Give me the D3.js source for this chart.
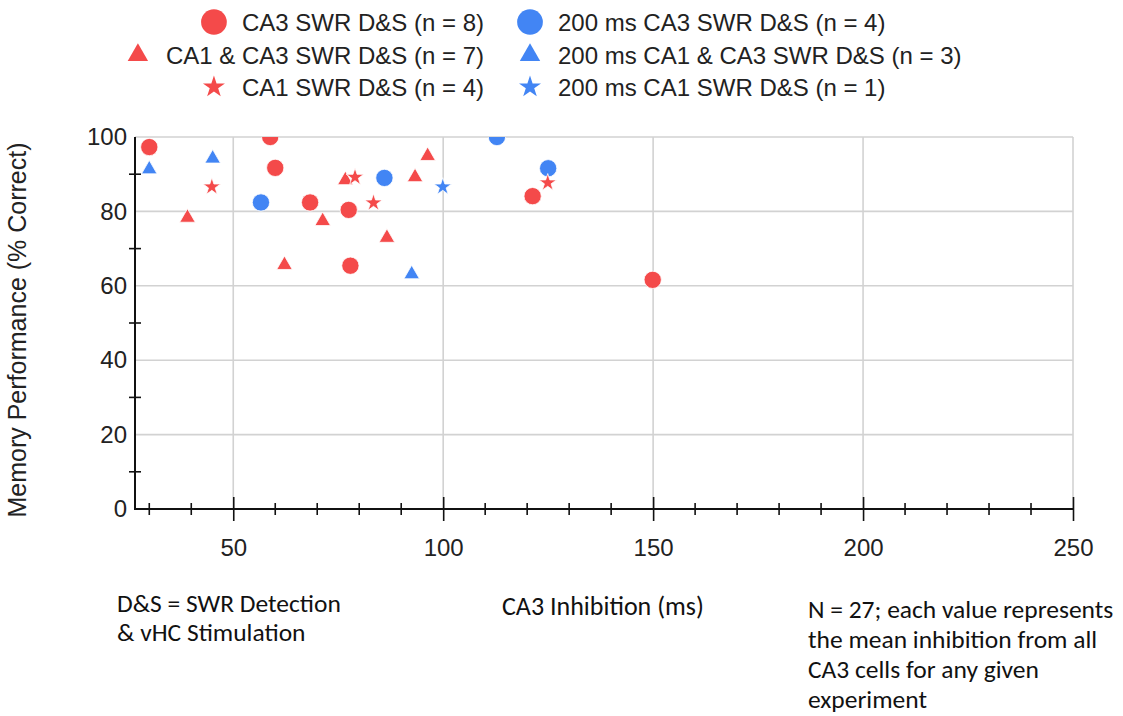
<html>
<head>
<script src="https://d3js.org/d3.v7.min.js"></script>
<style>
  body { margin: 0; background: #fff; }
  text { font-family: "Liberation Sans", Arial, sans-serif; fill: #222; }
  .note { font-family: Carlito, Calibri, Lato, "Open Sans", sans-serif; fill: #111; }
</style>
</head>
<body>
<svg width="1123" height="716"></svg>
<script>
// series, in the order the chart draws them
const seriesNames = [
  'CA3 SWR D&S (n = 8)', '200 ms CA3 SWR D&S (n = 4)',
  'CA1 & CA3 SWR D&S (n = 7)', '200 ms CA1 & CA3 SWR D&S (n = 3)',
  'CA1 SWR D&S (n = 4)', '200 ms CA1 SWR D&S (n = 1)'
];
const seriesShapes = ['circle', 'circle', 'triangle', 'triangle', 'star', 'star'];
const seriesColors = ['#f44a4a', '#4285f4', '#f44a4a', '#4285f4', '#f44a4a', '#4285f4'];

// CA3 inhibition (ms) / memory performance (% correct)
const ca3X = [30, 58.8, 60, 68.3, 77.5, 77.9, 121.3, 149.9];
const ca3Y = [97.3, 100, 91.7, 82.4, 80.4, 65.4, 84.1, 61.6];
const ca3ShortX = [56.6, 86, 112.8, 125];
const ca3ShortY = [82.4, 89, 100, 91.6];
const bothX = [39.1, 62.2, 71.3, 76.7, 86.6, 93.3, 96.3];
const bothY = [78.3, 65.6, 77.4, 88.4, 72.9, 89.2, 94.9];
const bothShortX = [30, 45.1, 92.5];
const bothShortY = [91.3, 94.2, 63.1];
const ca1X = [44.9, 79, 83.4, 124.9];
const ca1Y = [86.6, 89.2, 82.3, 87.7];
const ca1ShortX = [99.9];
const ca1ShortY = [86.6];

const xs = [ca3X, ca3ShortX, bothX, bothShortX, ca1X, ca1ShortX];
const ys = [ca3Y, ca3ShortY, bothY, bothShortY, ca1Y, ca1ShortY];

const xTicks = [50, 100, 150, 200, 250];
const xMinor = [30, 40, 60, 70, 80, 90, 110, 120, 130, 140, 160, 170, 180, 190, 210, 220, 230, 240];
const yTicks = [0, 20, 40, 60, 80, 100];
const yMinor = [10, 30, 50, 70, 90];

const svg = d3.select('svg');
const pLeft = 135, pRight = 1073, pTop = 137, pBottom = 509;

const x = d3.scaleLinear().domain([26.6, 250]).range([pLeft, pRight]);
const y = d3.scaleLinear().domain([0, 100]).range([pBottom, pTop]);

const symbolOf = { circle: d3.symbolCircle, triangle: d3.symbolTriangle, star: d3.symbolStar };
const plotSize = { circle: 235, triangle: 105, star: 95 };
const legendSize = { circle: 520, triangle: 180, star: 150 };

svg.append('defs').append('clipPath').attr('id', 'plot')
  .append('rect').attr('x', pLeft).attr('y', pTop)
  .attr('width', pRight - pLeft).attr('height', pBottom - pTop);

// gridlines
const grid = svg.append('g').attr('stroke', '#d2d2d2').attr('stroke-width', 1.6);
grid.append('g').selectAll('line').data(yTicks.filter(d => d > 0)).join('line')
  .attr('x1', pLeft).attr('x2', pRight).attr('y1', d => y(d)).attr('y2', d => y(d));
grid.append('g').selectAll('line').data(xTicks).join('line')
  .attr('y1', pTop).attr('y2', pBottom).attr('x1', d => x(d)).attr('x2', d => x(d));

// x axis
const xAxis = svg.append('g').attr('transform', `translate(0,${pBottom})`)
  .call(d3.axisBottom(x).tickValues(xTicks).tickSize(12).tickPadding(18))
  .call(g => g.select('.domain').remove());
xAxis.selectAll('.tick line').attr('y1', -12).attr('stroke', '#111').attr('stroke-width', 1.6);
xAxis.selectAll('.tick text').attr('font-size', 24).attr('fill', '#222')
  .attr('font-family', '"Liberation Sans", Arial, sans-serif');
svg.append('g').selectAll('line').data(xMinor).join('line')
  .attr('x1', d => x(d)).attr('x2', d => x(d))
  .attr('y1', pBottom - 6).attr('y2', pBottom + 6)
  .attr('stroke', '#111').attr('stroke-width', 1.6);
svg.append('line').attr('x1', pLeft).attr('x2', pRight).attr('y1', pBottom).attr('y2', pBottom)
  .attr('stroke', '#111').attr('stroke-width', 2);

// y axis
const yAxis = svg.append('g').attr('transform', `translate(${pLeft},0)`)
  .call(d3.axisLeft(y).tickValues(yTicks).tickSize(0).tickPadding(8))
  .call(g => g.select('.domain').remove());
yAxis.selectAll('.tick text').attr('font-size', 24).attr('fill', '#222')
  .attr('font-family', '"Liberation Sans", Arial, sans-serif');
svg.append('g').selectAll('line').data(yMinor).join('line')
  .attr('y1', d => y(d)).attr('y2', d => y(d))
  .attr('x1', pLeft - 6).attr('x2', pLeft + 6)
  .attr('stroke', '#111').attr('stroke-width', 1.6);
svg.append('line').attr('x1', pLeft).attr('x2', pLeft).attr('y1', pTop).attr('y2', pBottom + 1)
  .attr('stroke', '#111').attr('stroke-width', 2);

// points
const pts = svg.append('g').attr('clip-path', 'url(#plot)');
seriesNames.forEach((name, i) => {
  const data = xs[i].map((v, k) => [v, ys[i][k]]);
  pts.append('g').selectAll('path').data(data).join('path')
    .attr('transform', d => `translate(${x(d[0])},${y(d[1])})`)
    .attr('d', d3.symbol(symbolOf[seriesShapes[i]], plotSize[seriesShapes[i]]))
    .attr('fill', seriesColors[i])
    .attr('stroke', '#fff').attr('stroke-width', 0.8);
});

// legend: two columns, left one right-aligned
const legendRows = [22, 55, 87];
const lg = svg.append('g');
seriesNames.forEach((name, i) => {
  const row = legendRows[Math.floor(i / 2)];
  const col = i % 2;
  const item = lg.append('g');
  const label = item.append('text')
    .attr('y', row).attr('dy', '0.36em').attr('font-size', 24).attr('fill', '#222')
    .text(name);
  let mx;
  if (col === 0) {
    label.attr('x', 484).attr('text-anchor', 'end');
    const w = label.node().getComputedTextLength();
    mx = 484 - w - 28;
  } else {
    label.attr('x', 558);
    mx = 530;
  }
  item.append('path')
    .attr('transform', `translate(${mx},${row})`)
    .attr('d', d3.symbol(symbolOf[seriesShapes[i]], legendSize[seriesShapes[i]]))
    .attr('fill', seriesColors[i]);
});

// axis titles
svg.append('text')
  .attr('transform', `translate(26,330) rotate(-90)`)
  .attr('text-anchor', 'middle').attr('font-size', 25).attr('fill', '#222')
  .text('Memory Performance (% Correct)');

svg.append('text').attr('class', 'note')
  .attr('x', 502).attr('y', 615).attr('font-size', 26)
  .text('CA3 Inhibition (ms)');

const noteLeft = ['D&S = SWR Detection', '& vHC Stimulation'];
svg.append('g').selectAll('text').data(noteLeft).join('text').attr('class', 'note')
  .attr('x', 117).attr('y', (d, i) => 612 + i * 29).attr('font-size', 25.5)
  .text(d => d);

const noteRight = ['N = 27; each value represents', 'the mean inhibition from all',
  'CA3 cells for any given', 'experiment'];
svg.append('g').selectAll('text').data(noteRight).join('text').attr('class', 'note')
  .attr('x', 808).attr('y', (d, i) => 618 + i * 30).attr('font-size', 25.5)
  .text(d => d);
</script>
</body>
</html>
